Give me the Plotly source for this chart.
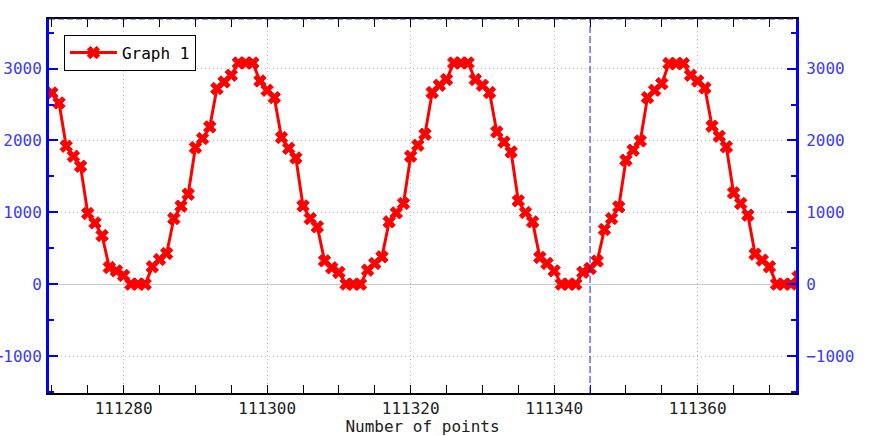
import plotly.graph_objects as go

x_start = 111270
values = [
    2661, 2522, 1919, 1780, 1641, 983, 853, 677, 232, 185,
    121, 0, 0, 0, 241, 343, 427, 913, 1085, 1252,
    1901, 2026, 2188, 2722, 2814, 2907, 3078, 3078, 3078, 2828,
    2698, 2596, 2040, 1890, 1757, 1089, 913, 797, 324, 227,
    163, 0, 0, 0, 195, 288, 380, 867, 992, 1122,
    1780, 1933, 2086, 2666, 2768, 2847, 3078, 3078, 3078, 2847,
    2768, 2666, 2118, 1979, 1840, 1159, 997, 867, 371, 288,
    185, 0, 0, 0, 165, 218, 322, 760, 913, 1075,
    1725, 1864, 1993, 2596, 2698, 2791, 3070, 3070, 3070, 2907,
    2828, 2731, 2198, 2058, 1910, 1270, 1122, 960, 417, 334,
    241, 0, 0, 0, 102,
]
x_points = list(range(x_start, x_start + len(values)))
cursor_x = 111345
x_range = [111269.6, 111373.7]
y_range = [-1515, 3690]

FONT = "DejaVu Sans Mono"
BLUE_TXT = "#3a3aff"
GRID = "#bdbdbd"

fig = go.Figure()
fig.add_trace(go.Scatter(
    x=x_points, y=values, mode="lines+markers", name="Graph 1",
    line=dict(color="#ff0000", width=3),
    marker=dict(symbol="x", size=11, color="#ff0000", line=dict(color="#ff0000", width=1)),
    cliponaxis=True,
))
# dummy trace for right axis
fig.add_trace(go.Scatter(x=[x_points[0]], y=[values[0]], yaxis="y2", showlegend=False,
                         mode="markers", marker=dict(opacity=0), hoverinfo="skip"))

fig.add_shape(type="line", xref="x", yref="paper", x0=cursor_x, x1=cursor_x, y0=0, y1=1,
              line=dict(color="#1a1aff", width=1, dash="7px,3px"))
fig.add_shape(type="line", xref="paper", yref="paper", x0=0, x1=1, y0=1, y1=1,
              line=dict(color="#303090", width=1, dash="6px,3px"))

fig.update_layout(
    width=870, height=436,
    margin=dict(l=49, r=74, t=19, b=43),
    paper_bgcolor="white", plot_bgcolor="white",
    showlegend=True,
    legend=dict(x=0.02, y=0.958, xanchor="left", yanchor="top",
                bordercolor="black", borderwidth=1, bgcolor="white",
                itemwidth=47,
                font=dict(family=FONT, size=16, color="black")),
    xaxis=dict(
        range=x_range, dtick=20, tick0=0, automargin=False,
        showline=True, linecolor="black", linewidth=2, mirror="allticks",
        ticks="inside", ticklen=8, tickwidth=1, tickcolor="black",
        minor=dict(ticks="inside", ticklen=4, dtick=5, tickcolor="black", showgrid=False),
        showgrid=True, gridcolor=GRID, griddash="1px,3px", gridwidth=1,
        zeroline=False,
        tickfont=dict(family=FONT, size=16, color="#202020"),
        title=dict(text="Number of points", font=dict(family=FONT, size=16, color="#202020"), standoff=0),
        tickformat="d",
    ),
    yaxis=dict(
        range=y_range, dtick=1000, automargin=False,
        showline=True, linecolor="#0000ff", linewidth=3,
        ticks="inside", ticklen=9, tickwidth=2, tickcolor="#0000ff",
        minor=dict(ticks="inside", ticklen=5, dtick=500, tickcolor="#0000ff", tickwidth=2, showgrid=False),
        showgrid=True, gridcolor=GRID, griddash="1px,3px", gridwidth=1,
        zeroline=True, zerolinecolor="#c8c8c8", zerolinewidth=1,
        tickfont=dict(family=FONT, size=16, color=BLUE_TXT),
        ticklabelstandoff=1,
    ),
    yaxis2=dict(
        range=y_range, dtick=1000, overlaying="y", side="right", automargin=False,
        showline=True, linecolor="#0000ff", linewidth=3,
        ticks="inside", ticklen=9, tickwidth=2, tickcolor="#0000ff",
        minor=dict(ticks="inside", ticklen=5, dtick=500, tickcolor="#0000ff", tickwidth=2, showgrid=False),
        showgrid=False, zeroline=False,
        tickfont=dict(family=FONT, size=16, color=BLUE_TXT),
        ticklabelstandoff=4,
    ),
)

fig.write_html("out.html", config={"displayModeBar": False},
               post_script="document.body.style.margin='0';document.body.style.overflow='hidden';")
